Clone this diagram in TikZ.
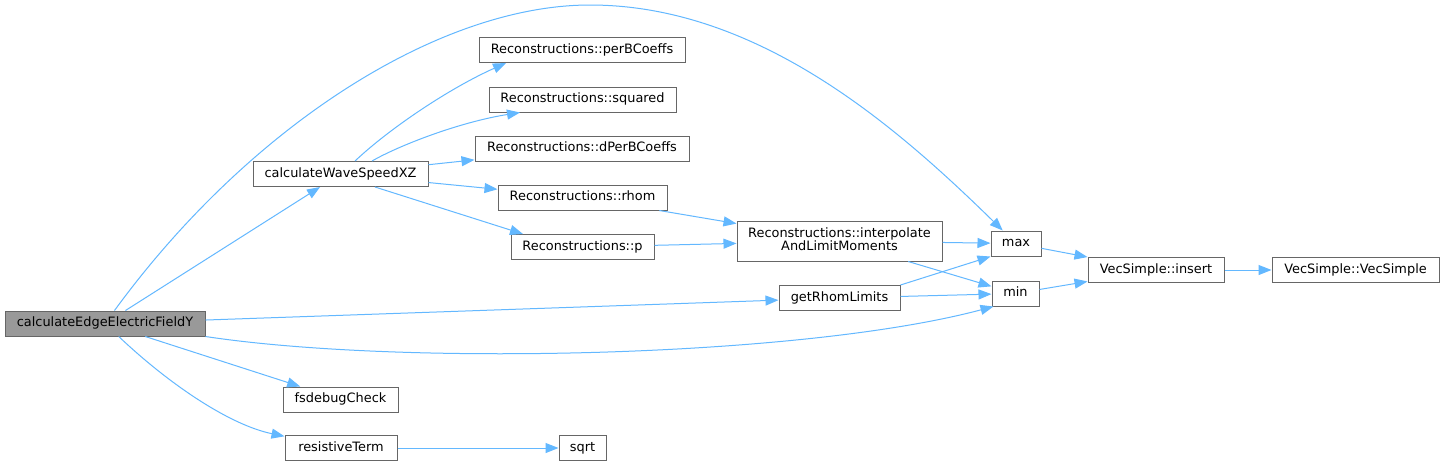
\documentclass[tikz,border=0pt]{standalone}
\usepackage{fontspec}
\setmainfont{DejaVu Sans}
\usetikzlibrary{arrows.meta}
\definecolor{edgeblue}{HTML}{63B8FF}
\definecolor{nodegray}{HTML}{666666}
\definecolor{rootfill}{HTML}{999999}
\begin{document}
\begin{tikzpicture}[x=1pt,y=-1pt,
  fn/.style={draw=nodegray, line width=1pt, fill=white, inner sep=0pt,
    minimum height=25pt, text height=9.4pt, text depth=3pt,
    font=\fontsize{12.9}{13.5}\selectfont},
  root/.style={fn, fill=rootfill},
  call/.style={draw=edgeblue, line width=1pt, -{Triangle[length=13pt,width=10pt]}}
]
\fill[white] (0,0) rectangle (1444,467);
\useasboundingbox (0,0) rectangle (1444,467);

\node[root, minimum width=200pt] (cef) at (105,323.5) {calculateEdgeElectricFieldY};
\node[fn, minimum width=175pt] (wave) at (340.5,174) {calculateWaveSpeedXZ};
\node[fn, minimum width=206pt] (perB) at (582,50) {Reconstructions::perBCoeffs};
\node[fn, minimum width=187pt] (sq) at (582.5,99.5) {Reconstructions::squared};
\node[fn, minimum width=214pt] (dperB) at (582,148.5) {Reconstructions::dPerBCoeffs};
\node[fn, minimum width=169pt] (rhom) at (582.5,197.5) {Reconstructions::rhom};
\node[fn, minimum width=143pt] (p) at (582.5,247) {Reconstructions::p};
\node[fn, minimum width=205pt, minimum height=40pt, align=center, text height=22.9pt, text depth=3pt] (interp) at (839.5,241)
  {Reconstructions::interpolate\\AndLimitMoments};
\node[fn, minimum width=50pt] (max) at (1016,243.5) {max};
\node[fn, minimum width=47pt] (min) at (1015.5,293.5) {min};
\node[fn, minimum width=121pt] (grl) at (839.5,298) {getRhomLimits};
\node[fn, minimum width=136pt] (ins) at (1156,270) {VecSimple::insert};
\node[fn, minimum width=167pt] (vs) at (1355.5,270) {VecSimple::VecSimple};
\node[fn, minimum width=115pt] (fsd) at (340.5,399.5) {fsdebugCheck};
\node[fn, minimum width=112pt] (res) at (341,448) {resistiveTerm};
\node[fn, minimum width=47pt] (sqrt) at (582.5,448) {sqrt};

% edges from calculateEdgeElectricFieldY
\draw[call] (cef) -- (wave);
\draw[call] (cef) .. controls (250,125) and (440,5) .. (590,5)
                  .. controls (760,5) and (900,130) .. (max);
\draw[call] (cef) -- (grl);
\draw[call] (cef.south east) .. controls (400,366) and (800,358) .. ([xshift=2pt]min.south west);
\draw[call] (cef) -- (fsd);
\draw[call] (cef) .. controls (170,385) and (230,425) .. (res);

% edges from calculateWaveSpeedXZ
\draw[call] ([xshift=14.5pt]wave.north) .. controls (390,128) and (450,88) .. ([xshift=-76pt]perB.south);
\draw[call] ([xshift=31.5pt]wave.north) .. controls (400,145) and (460,122) .. ([xshift=-62.5pt]sq.south);
\draw[call] (wave) -- (dperB);
\draw[call] (wave) -- (rhom);
\draw[call] ([xshift=34.5pt]wave.south) -- ([xshift=-59.5pt]p.north);

% other edges
\draw[call] (rhom) -- (interp);
\draw[call] (p) -- (interp);
\draw[call] (interp) -- (max);
\draw[call] (interp) -- (min);
\draw[call] (grl.north east) -- (max.south west);
\draw[call] (grl) -- (min);
\draw[call] (max) -- (ins);
\draw[call] (min) -- (ins);
\draw[call] (ins) -- (vs);
\draw[call] (res) -- (sqrt);
\end{tikzpicture}
\end{document}
